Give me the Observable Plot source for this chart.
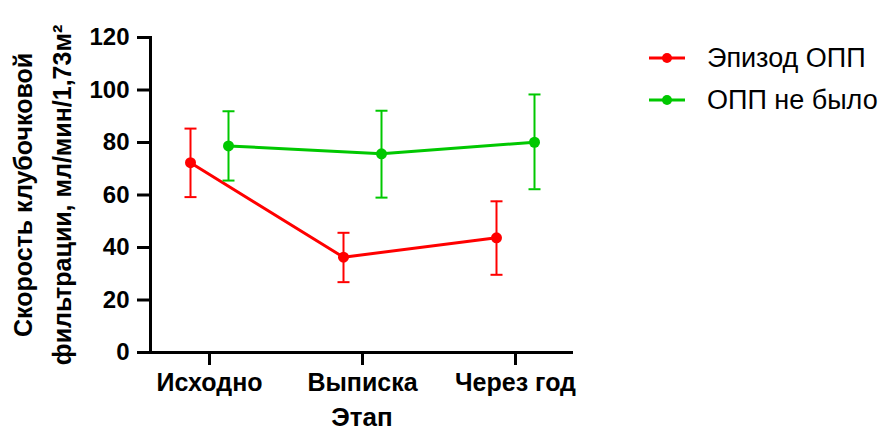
<!DOCTYPE html>
<html>
<head>
<meta charset="utf-8">
<script src="https://cdn.jsdelivr.net/npm/d3@7"></script>
<script src="https://cdn.jsdelivr.net/npm/@observablehq/plot@0.6"></script>
<style>
  html, body { margin: 0; padding: 0; background: #fff; }
  #wrap { position: relative; width: 881px; height: 430px; font-family: "Liberation Sans", Arial, sans-serif; }
  #legend { position: absolute; left: 649px; top: 37px; }
  .item { display: flex; align-items: center; height: 42px; font-size: 27px; color: #000; }
  .item svg { margin-right: 22px; }
</style>
</head>
<body>
<div id="wrap"></div>
<script>
const stages = ["Исходно", "Выписка", "Через год"];
const groups = ["Эпизод ОПП", "ОПП не было"];
const colors = ["#ff0000", "#00c800"];
const meanOPP = [72.3, 36.3, 43.7];
const lowOPP = [59.2, 26.8, 29.6];
const highOPP = [85.3, 45.6, 57.6];
const meanNo = [78.7, 75.7, 80.1];
const lowNo = [65.5, 59.0, 62.2];
const highNo = [91.9, 92.1, 98.3];
const yTicks = [0, 20, 40, 60, 80, 100, 120];
const xTitle = "Этап";
const yTitle = "Скорость клубочковой\nфильтрации, мл/мин/1,73м²";

const series = [
  {name: groups[0], color: colors[0], offset: -19, data: stages.map((s, i) => ({stage: s, mean: meanOPP[i], low: lowOPP[i], high: highOPP[i]}))},
  {name: groups[1], color: colors[1], offset: 19, data: stages.map((s, i) => ({stage: s, mean: meanNo[i], low: lowNo[i], high: highNo[i]}))}
];

const capSymbol = {
  draw(ctx, size) {
    const r = Math.sqrt(size / Math.PI);
    ctx.moveTo(-r, 0);
    ctx.lineTo(r, 0);
  }
};

const marks = [];
for (const s of series) {
  marks.push(Plot.ruleX(s.data, {x: "stage", y1: "low", y2: "high", stroke: s.color, strokeWidth: 2, dx: s.offset}));
  marks.push(Plot.dot(s.data, {x: "stage", y: "low", symbol: capSymbol, r: 6, stroke: s.color, strokeWidth: 2, fill: "none", dx: s.offset}));
  marks.push(Plot.dot(s.data, {x: "stage", y: "high", symbol: capSymbol, r: 6, stroke: s.color, strokeWidth: 2, fill: "none", dx: s.offset}));
  marks.push(Plot.line(s.data, {x: "stage", y: "mean", stroke: s.color, strokeWidth: 3, dx: s.offset}));
  marks.push(Plot.dot(s.data, {x: "stage", y: "mean", r: 5.5, fill: s.color, stroke: "none", dx: s.offset}));
}

const chart = Plot.plot({
  width: 881,
  height: 430,
  marginLeft: 150,
  marginRight: 308,
  marginTop: 37,
  marginBottom: 78,
  style: {fontFamily: "'Liberation Sans', Arial, sans-serif", background: "#fff", color: "#000"},
  x: {type: "point", domain: stages, padding: 0.382},
  y: {domain: [0, 120]},
  marks: [
    Plot.axisY({ticks: yTicks, tickSize: 13, tickPadding: 8, strokeWidth: 3, fontSize: 24, fontWeight: "bold", label: null, stroke: "#000"}),
    Plot.axisX({tickSize: 13, tickPadding: 8, strokeWidth: 3, fontSize: 25, fontWeight: "bold", label: null, stroke: "#000"}),
    Plot.frame({anchor: "left", stroke: "#000", strokeWidth: 3}),
    Plot.ruleY([0], {stroke: "#000", strokeWidth: 3}),
    ...marks,
    Plot.text([xTitle], {frameAnchor: "bottom", dy: 73, fontSize: 26, fontWeight: "bold", fill: "#000"}),
    Plot.text([yTitle], {frameAnchor: "left", textAnchor: "middle", rotate: -90, dx: -111, fontSize: 25, fontWeight: "bold", lineHeight: 1.56, fill: "#000"})
  ]
});

const wrap = document.getElementById("wrap");
wrap.appendChild(chart);

const legend = document.createElement("div");
legend.id = "legend";
groups.forEach((g, i) => {
  const item = document.createElement("div");
  item.className = "item";
  item.innerHTML = `<svg width="36" height="14"><line x1="0" y1="7" x2="36" y2="7" stroke="${colors[i]}" stroke-width="3"/><circle cx="18" cy="7" r="5" fill="${colors[i]}"/></svg><span>${g}</span>`;
  legend.appendChild(item);
});
wrap.appendChild(legend);
</script>
</body>
</html>
